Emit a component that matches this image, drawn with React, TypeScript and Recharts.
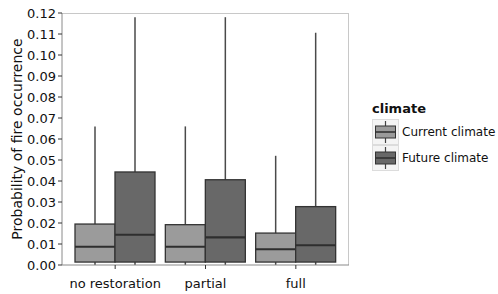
import { ComposedChart, Bar, XAxis, YAxis } from 'recharts'

const categories = ['no restoration', 'partial', 'full']
const yTicks = [0, 0.01, 0.02, 0.03, 0.04, 0.05, 0.06, 0.07, 0.08, 0.09, 0.1, 0.11, 0.12]

const currentMin = [0, 0, 0]
const currentQ1 = [0.0014, 0.0014, 0.0014]
const currentMedian = [0.0087, 0.0087, 0.0075]
const currentQ3 = [0.0195, 0.0192, 0.0152]
const currentMax = [0.066, 0.066, 0.052]

const futureMin = [0, 0, 0]
const futureQ1 = [0.0014, 0.0014, 0.0014]
const futureMedian = [0.0144, 0.0132, 0.0094]
const futureQ3 = [0.0443, 0.0406, 0.0278]
const futureMax = [0.118, 0.118, 0.1106]

const data = categories.map((name, i) => ({
  name,
  current: [currentMin[i], currentMax[i]],
  currentBox: [currentQ1[i], currentMedian[i], currentQ3[i]],
  future: [futureMin[i], futureMax[i]],
  futureBox: [futureQ1[i], futureMedian[i], futureQ3[i]],
}))

const FONT = '"DejaVu Sans", sans-serif'
const CUR = '#9b9b9b'
const FUT = '#686868'

// bar spans min..max (whiskers); box + median mapped from same pixel range
const boxShape = (key: string, fill: string) => (props: any) => {
  const { x, y, width, height, payload } = props
  if (!payload || !payload[key]) return <g />
  const [lo, hi] = payload[key] as number[]
  const top = Math.min(y, y + height)
  const bot = Math.max(y, y + height)
  const py = (v: number) => bot - ((v - lo) / (hi - lo)) * (bot - top)
  const [q1, med, q3] = payload[key + 'Box']
  const cx = x + width / 2
  return (
    <g>
      <line x1={cx} x2={cx} y1={py(hi)} y2={py(lo)} stroke="#4a4a4a" strokeWidth={1.5} />
      <rect x={x} y={py(q3)} width={width} height={py(q1) - py(q3)} fill={fill} stroke="#333" strokeWidth={1.3} />
      <line x1={x} x2={x + width} y1={py(med)} y2={py(med)} stroke="#2e2e2e" strokeWidth={2.2} />
    </g>
  )
}

const LegendKey = ({ fill }: { fill: string }) => (
  <svg width={27} height={26} style={{ display: 'block' }}>
    <rect x={0.5} y={0.5} width={26} height={25} fill="#f4f4f4" stroke="#dcdcdc" />
    <line x1={13.5} x2={13.5} y1={2} y2={24} stroke="#444" strokeWidth={1.2} />
    <rect x={3.5} y={7} width={20} height={12} fill={fill} stroke="#333" />
    <line x1={3.5} x2={23.5} y1={13} y2={13} stroke="#2e2e2e" strokeWidth={1.5} />
  </svg>
)

const ChartLegend = () => (
  <div style={{ position: 'absolute', left: 372, top: 101, fontFamily: FONT, color: '#111' }}>
    <div style={{ fontWeight: 'bold', fontSize: 13, marginBottom: 3 }}>climate</div>
    {[
      { label: 'Current climate', fill: CUR },
      { label: 'Future climate', fill: FUT },
    ].map((it) => (
      <div key={it.label} style={{ display: 'flex', alignItems: 'center', height: 26 }}>
        <LegendKey fill={it.fill} />
        <span style={{ fontSize: 12, marginLeft: 3, whiteSpace: 'nowrap' }}>{it.label}</span>
      </div>
    ))}
  </div>
)

export default function App() {
  return (
    <div style={{ position: 'absolute', left: 0, top: 0, width: 498, height: 294, background: '#fff', overflow: 'hidden' }}>
      {/* light panel frame, top + right (left/bottom come from the axes) */}
      <div style={{ position: 'absolute', left: 62, top: 13, width: 286, height: 251, borderTop: '1px solid #c8c8c8', borderRight: '1px solid #c8c8c8' }} />
      <ComposedChart
        width={498}
        height={294}
        data={data}
        margin={{ top: 13, right: 149, left: 0, bottom: 0 }}
        barGap={0}
      >
        <XAxis
          dataKey="name"
          padding={{ left: 8, right: 8 }}
          height={29}
          axisLine={{ stroke: '#8a8a8a' }}
          tickLine={{ stroke: '#333' }}
          tickSize={4}
          tick={{ fontFamily: FONT, fontSize: 13, fill: '#111', dy: 8 }}
        />
        <YAxis
          domain={[0, 0.12]}
          ticks={yTicks}
          interval={0}
          width={62}
          tickFormatter={(v: number) => v.toFixed(2)}
          axisLine={{ stroke: '#8a8a8a' }}
          tickLine={{ stroke: '#333' }}
          tickSize={4}
          tick={{ fontFamily: FONT, fontSize: 13, fill: '#111' }}
          label={{
            value: 'Probability of fire occurrence',
            angle: -90,
            position: 'insideLeft',
            dx: 12,
            style: { textAnchor: 'middle', fontFamily: FONT, fontSize: 14, fill: '#111' },
          }}
        />
        <Bar dataKey="current" name="Current climate" barSize={40} isAnimationActive={false} shape={boxShape('current', CUR)} />
        <Bar dataKey="future" name="Future climate" barSize={40} isAnimationActive={false} shape={boxShape('future', FUT)} />
      </ComposedChart>
      <ChartLegend />
    </div>
  )
}
